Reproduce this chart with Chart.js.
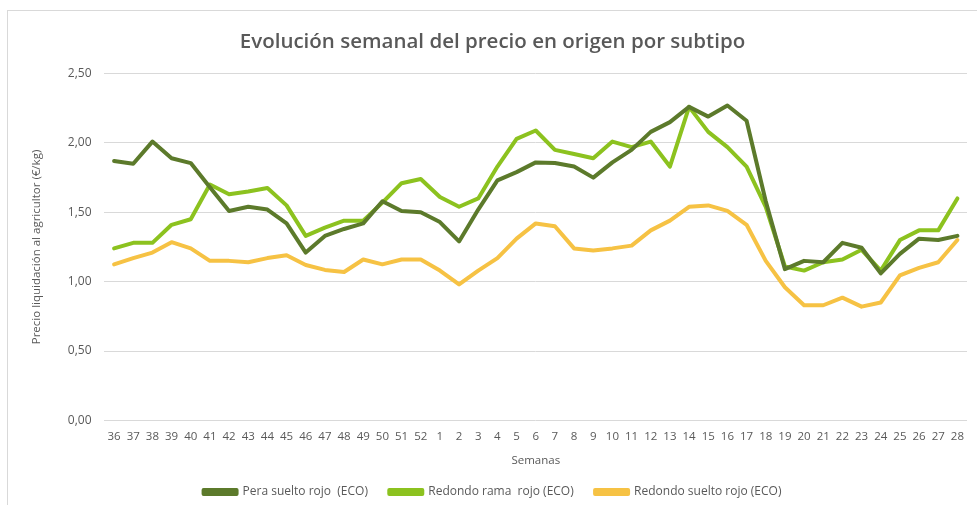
<!DOCTYPE html>
<html>
<head>
<meta charset="utf-8">
<script src="https://cdn.jsdelivr.net/npm/chart.js@4/dist/chart.umd.min.js"></script>
<style>
html,body{margin:0;padding:0;background:#fff;overflow:hidden;}
#wrap{position:relative;width:977px;height:505px;overflow:hidden;}
#frame{position:absolute;left:7px;top:10px;width:1200px;height:800px;border:1px solid #d9d9d9;box-sizing:border-box;}
canvas{position:absolute;left:0;top:0;display:block;}
</style>
</head>
<body>
<div id="wrap"><div id="frame"></div><canvas id="c" width="977" height="505"></canvas></div>
<script>
const semanas = ["36","37","38","39","40","41","42","43","44","45","46","47","48","49","50","51","52","1","2","3","4","5","6","7","8","9","10","11","12","13","14","15","16","17","18","19","20","21","22","23","24","25","26","27","28"];
const peraSueltoRojo = [1.87,1.85,2.01,1.89,1.855,1.68,1.51,1.54,1.52,1.42,1.21,1.33,1.38,1.42,1.58,1.51,1.50,1.43,1.29,1.52,1.73,1.79,1.86,1.855,1.83,1.75,1.86,1.95,2.08,2.15,2.26,2.19,2.27,2.16,1.58,1.09,1.15,1.14,1.28,1.245,1.06,1.20,1.31,1.30,1.33];
const redondoRamaRojo = [1.24,1.28,1.28,1.41,1.45,1.70,1.63,1.65,1.675,1.55,1.33,1.39,1.44,1.44,1.57,1.71,1.74,1.61,1.54,1.60,1.83,2.03,2.09,1.95,1.92,1.89,2.01,1.97,2.01,1.83,2.26,2.08,1.97,1.83,1.54,1.11,1.08,1.14,1.16,1.23,1.08,1.30,1.37,1.37,1.60];
const redondoSueltoRojo = [1.125,1.17,1.21,1.285,1.24,1.15,1.15,1.14,1.17,1.19,1.12,1.085,1.07,1.16,1.125,1.16,1.16,1.08,0.98,1.08,1.17,1.31,1.42,1.40,1.24,1.225,1.24,1.26,1.37,1.44,1.54,1.55,1.51,1.41,1.15,0.96,0.83,0.83,0.885,0.82,0.85,1.045,1.10,1.14,1.30];

const FONT = "'Open Sans', 'Liberation Sans', sans-serif";
const txt = '#595959';

new Chart(document.getElementById('c'), {
  type: 'line',
  data: {
    labels: semanas,
    datasets: [
      {label: 'Pera suelto rojo  (ECO)', data: peraSueltoRojo, borderColor: '#5c7a2b', backgroundColor: '#5c7a2b'},
      {label: 'Redondo rama  rojo (ECO)', data: redondoRamaRojo, borderColor: '#8cc21f', backgroundColor: '#8cc21f'},
      {label: 'Redondo suelto rojo (ECO)', data: redondoSueltoRojo, borderColor: '#f6c244', backgroundColor: '#f6c244'}
    ]
  },
  options: {
    responsive: false,
    animation: false,
    layout: {padding: {left: 18, right: 10, top: 10, bottom: -3}},
    elements: {
      line: {borderWidth: 4, tension: 0, borderJoinStyle: 'round', borderCapStyle: 'round'},
      point: {radius: 0}
    },
    plugins: {
      title: {
        display: true,
        text: 'Evolución semanal del precio en origen por subtipo',
        color: txt,
        font: {family: FONT, size: 20.5, weight: '600'},
        padding: {top: 20, bottom: 19}
      },
      legend: {
        position: 'bottom',
        labels: {
          color: txt,
          font: {family: FONT, size: 12},
          boxWidth: 33,
          boxHeight: 4,
          padding: 12,
          generateLabels: (chart) => {
            const items = Chart.defaults.plugins.legend.labels.generateLabels(chart);
            return items.map((it, i) => i < items.length - 1 ? Object.assign(it, {text: it.text + '   '}) : it);
          }
        }
      },
      tooltip: {enabled: false}
    },
    scales: {
      x: {
        offset: true,
        grid: {display: false},
        border: {display: false},
        ticks: {color: txt, font: {family: FONT, size: 11.5}, maxRotation: 0, autoSkip: false, padding: 1},
        title: {display: true, text: 'Semanas', color: txt, font: {family: FONT, size: 11.5}, padding: {top: 10, bottom: 6}}
      },
      y: {
        min: 0, max: 2.5,
        ticks: {stepSize: 0.5, color: txt, font: {family: FONT, size: 12}, padding: 13,
          callback: v => v.toFixed(2).replace('.', ',')},
        grid: {color: '#d9d9d9', lineWidth: 1, drawTicks: false},
        border: {display: false},
        title: {display: true, text: 'Precio liquidación al agricultor (€/kg)', color: txt, font: {family: FONT, size: 11.5}, padding: {top: 12, bottom: 11}}
      }
    }
  }
});
</script>
</body>
</html>
